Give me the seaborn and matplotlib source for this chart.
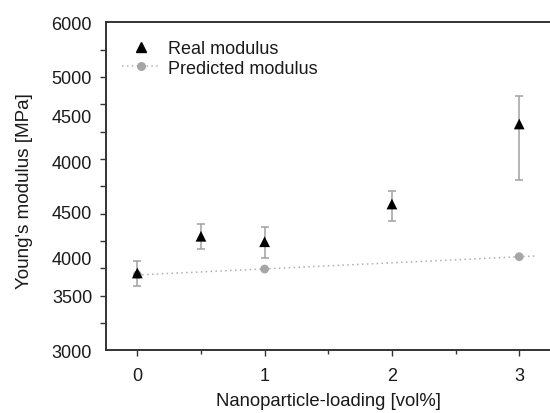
import numpy as np
import matplotlib
matplotlib.use("Agg")
import matplotlib.pyplot as plt
from matplotlib.lines import Line2D
from matplotlib.ticker import MultipleLocator, FixedLocator
import seaborn as sns
import pandas as pd

# ---- data ----
loading = [0, 0.5, 1, 2, 3]
real_modulus = [3707, 4043, 3993, 4338, 5070]
real_err_low = [122, 116, 149, 153, 510]
real_err_high = [107, 112, 132, 116, 256]

pred_loading = [0, 1, 3]
pred_modulus = [3690, 3743, 3856]

ytick_pos = [3000, 3497, 3853, 4274, 4731, 5152, 5502, 6000]
ytick_labels = ["3000", "3500", "4000", "4500", "4000", "4500", "5000", "6000"]
xtick_labels = ["0", "1", "2", "3"]

sns.set_theme(style="ticks")
plt.rcParams["font.family"] = ["Liberation Sans", "DejaVu Sans"]
txt = "#1a1a1a"
plt.rcParams["text.color"] = txt
plt.rcParams["axes.labelcolor"] = txt
plt.rcParams["xtick.color"] = "#333333"
plt.rcParams["ytick.color"] = "#333333"
plt.rcParams["xtick.labelcolor"] = txt
plt.rcParams["ytick.labelcolor"] = txt

fig = plt.figure(figsize=(5.5, 4.14), dpi=100)
ax = fig.add_axes([106/550, 1-351.3/414, (550-106)/550, (351.3-23.3)/414])

df_real = pd.DataFrame({"x": loading, "y": real_modulus})
df_pred = pd.DataFrame({"x": pred_loading, "y": pred_modulus})

# fitted dotted line for predicted values
coef = np.polyfit(pred_loading, pred_modulus, 1)
xf = np.linspace(0, 3.13, 50)
ax.plot(xf, np.polyval(coef, xf), linestyle=(0, (1, 2.2)), color="#b0b0b0", lw=1.1, zorder=1)

sns.scatterplot(data=df_pred, x="x", y="y", ax=ax, marker="o", s=40, color="#a6a6a6",
                edgecolor="none", zorder=2, legend=False)

ax.errorbar(loading, real_modulus, yerr=[real_err_low, real_err_high], fmt="none",
            ecolor="#a0a0a0", elinewidth=1.1, capsize=3, capthick=1.1, zorder=3)
sns.scatterplot(data=df_real, x="x", y="y", ax=ax, marker="^", s=60, color="black",
                edgecolor="none", zorder=4, legend=False)

ax.set_xlim(-0.246, 3.242)
ax.set_ylim(3000, 6000)
ax.set_xticks([0, 1, 2, 3])
ax.set_xticklabels(xtick_labels)
ax.xaxis.set_minor_locator(MultipleLocator(0.5))
ax.yaxis.set_major_locator(FixedLocator(ytick_pos))
ax.set_yticklabels(ytick_labels)
ax.yaxis.set_minor_locator(MultipleLocator(250))

ax.tick_params(axis="x", which="major", direction="out", length=4.5, width=1, labelsize=13, pad=7.5)
ax.tick_params(axis="x", which="minor", direction="out", length=3, width=1)
ax.tick_params(axis="y", which="major", direction="out", length=0, labelsize=13, pad=10)
ax.tick_params(axis="y", which="minor", direction="out", length=4, width=1)

for s in ["left", "bottom", "top"]:
    ax.spines[s].set_linewidth(1.4)
    ax.spines[s].set_color("#333333")
ax.spines["right"].set_visible(False)

ax.set_xlabel("Nanoparticle-loading [vol%]", fontsize=13.3, labelpad=6)
ax.set_ylabel("Young's modulus [MPa]", fontsize=13.6)
ax.yaxis.set_label_coords(-0.165, 0.49)

handles = [
    Line2D([], [], linestyle="none", marker="^", color="black", markersize=7),
    Line2D([], [], linestyle=(0, (1, 2.2)), color="#b0b0b0", lw=1.1, marker="o",
           markerfacecolor="#a6a6a6", markeredgecolor="none", markersize=6.5),
]
ax.legend(handles, ["Real modulus", "Predicted modulus"], loc="upper left",
          bbox_to_anchor=(0.036, 0.945), frameon=False, fontsize=13, borderaxespad=0,
          borderpad=0, labelspacing=0.12, handlelength=2.1, handletextpad=0.45, numpoints=1)

fig.savefig("out.png", dpi=100)
